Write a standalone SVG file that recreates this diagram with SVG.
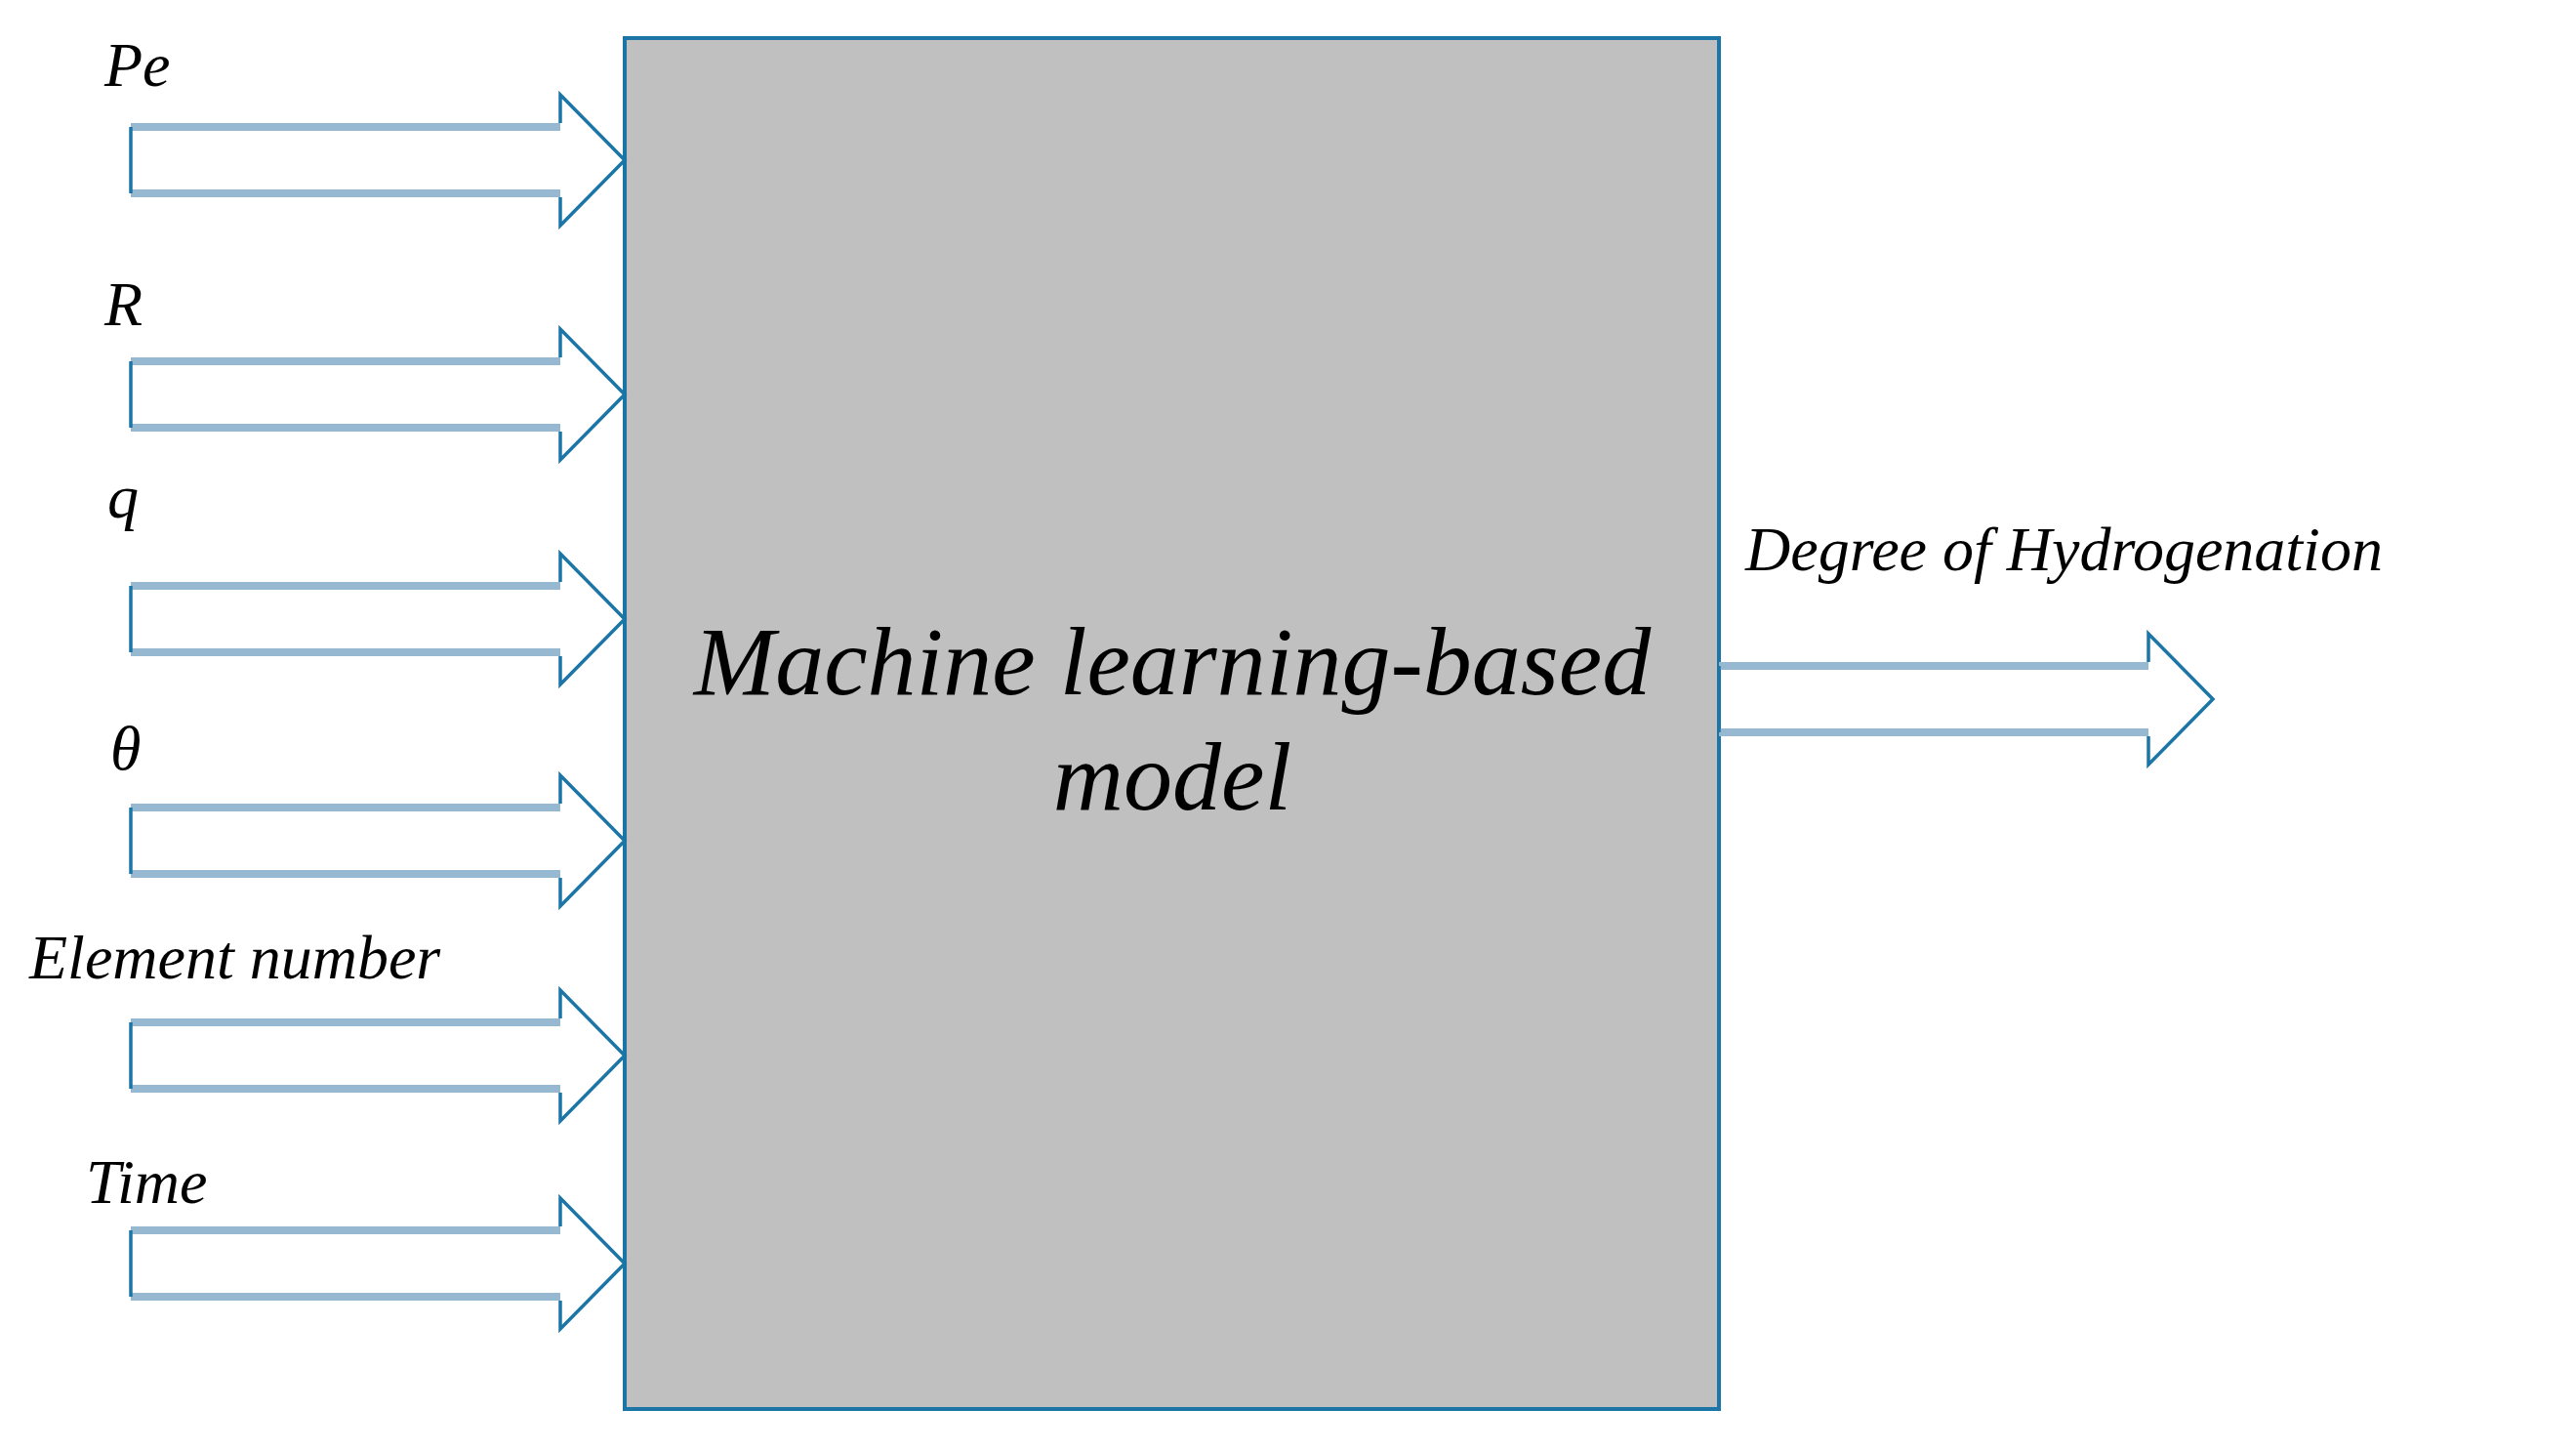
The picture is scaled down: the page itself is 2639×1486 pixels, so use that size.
<svg xmlns="http://www.w3.org/2000/svg" width="2639" height="1486" viewBox="0 0 2639 1486">
<style>
.lbl{font-family:"Liberation Serif",serif;font-style:italic;font-size:64px;fill:#000}
.main{font-family:"Liberation Serif",serif;font-style:italic;font-size:100px;fill:#000}
.body{stroke:#96b9d1;stroke-width:8;fill:none}
.edge{stroke:#1b75a6;stroke-width:3.5;fill:none}
</style>
<defs>
<g id="arr">
<path class="body" d="M0,-34 H440 M0,34 H440"/>
<path class="edge" d="M0,-34 V34 M440,-38 V-67 L506,0 L440,67 V38"/>
</g>
</defs>
<g id="model">
<rect x="640" y="39" width="1121" height="1404" fill="#c0c0c0" stroke="#1b75a6" stroke-width="4"/>
<text class="main" x="1201" y="711" text-anchor="middle">Machine learning-based</text>
<text class="main" x="1201" y="829" text-anchor="middle">model</text>
</g>
<g id="connectors">
<use href="#arr" x="134" y="164"/>
<use href="#arr" x="134" y="404"/>
<use href="#arr" x="134" y="634"/>
<use href="#arr" x="134" y="861"/>
<use href="#arr" x="134" y="1081"/>
<use href="#arr" x="134" y="1294"/>
<use href="#arr" x="1761" y="716"/>
</g>
<g id="inputs">
<text class="lbl" x="107" y="88">Pe</text>
<text class="lbl" x="107" y="333">R</text>
<text class="lbl" x="110" y="530">q</text>
<text class="lbl" x="113" y="788">θ</text>
<text class="lbl" x="30" y="1002">Element number</text>
<text class="lbl" x="88" y="1232">Time</text>
</g>
<g id="output">
<text class="lbl" x="1788" y="584">Degree of Hydrogenation</text>
</g>
</svg>
